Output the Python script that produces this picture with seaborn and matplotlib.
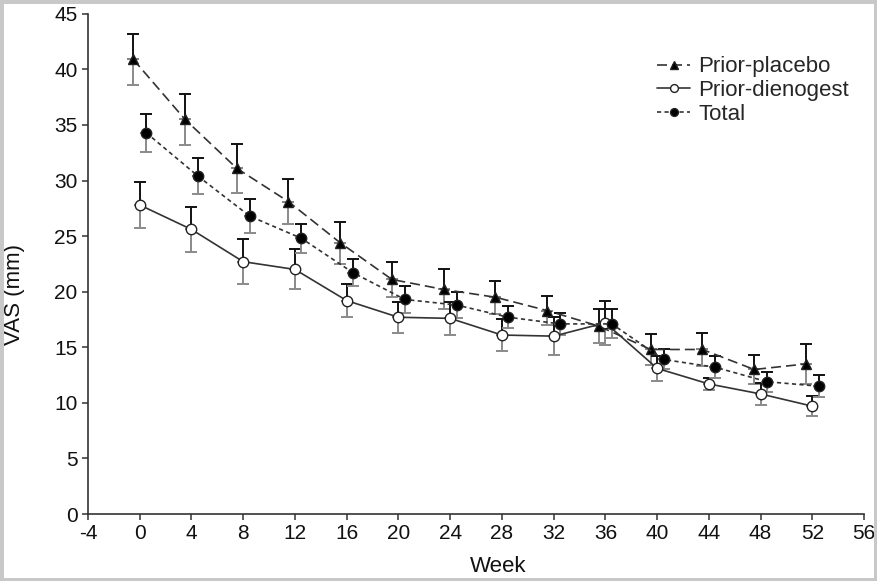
import numpy as np
import pandas as pd
import matplotlib
matplotlib.use("Agg")
import matplotlib.pyplot as plt
import seaborn as sns
from matplotlib.patches import Rectangle

# ─────────────────────────────────────────────
# Data
# ─────────────────────────────────────────────
WEEKS = [0, 4, 8, 12, 16, 20, 24, 28, 32, 36, 40, 44, 48, 52]

placebo_mean = [40.9, 35.5, 31.1, 28.1, 24.4, 21.1, 20.2, 19.5, 18.3, 16.9, 14.8, 14.8, 13.0, 13.5]
placebo_err  = [2.3, 2.3, 2.2, 2.0, 1.9, 1.6, 1.8, 1.5, 1.3, 1.5, 1.4, 1.5, 1.3, 1.8]

dienogest_mean = [27.8, 25.6, 22.7, 22.0, 19.2, 17.7, 17.6, 16.1, 16.0, 17.2, 13.1, 11.7, 10.8, 9.7]
dienogest_err  = [2.1, 2.0, 2.0, 1.8, 1.5, 1.4, 1.5, 1.4, 1.7, 2.0, 1.1, 0.5, 1.0, 0.9]

total_mean = [34.3, 30.4, 26.8, 24.8, 21.7, 19.3, 18.8, 17.7, 17.1, 17.1, 13.9, 13.2, 11.9, 11.5]
total_err  = [1.7, 1.6, 1.5, 1.3, 1.2, 1.2, 1.2, 1.0, 1.0, 1.3, 0.9, 1.0, 0.9, 1.0]

GROUPS = ["Prior-placebo", "Prior-dienogest", "Total"]

df = pd.DataFrame({
    "Week": WEEKS * 3,
    "VAS": placebo_mean + dienogest_mean + total_mean,
    "err": placebo_err + dienogest_err + total_err,
    "Group": np.repeat(GROUPS, len(WEEKS)),
})

# ─────────────────────────────────────────────
# Styling
# ─────────────────────────────────────────────
sns.set_style("ticks")
plt.rcParams["font.family"] = ["Liberation Sans", "DejaVu Sans"]
plt.rcParams["axes.unicode_minus"] = False

LINE = "#333333"
STYLE = {
    "Prior-placebo":   dict(offset=-0.5, dashes=(6, 3),   marker="^", mfc="black", ms=7.5),
    "Prior-dienogest": dict(offset=0.0,  dashes=None,     marker="o", mfc="white", ms=7.5),
    "Total":           dict(offset=0.5,  dashes=(2.5, 2), marker="o", mfc="black", ms=7.5),
}

fig = plt.figure(figsize=(8.77, 5.81), dpi=100)
ax = fig.add_axes([0.1003, 0.1153, 0.885, 0.861])

for g in GROUPS:
    s = STYLE[g]
    sub = df[df["Group"] == g].copy()
    sub["x"] = sub["Week"] + s["offset"]

    # error bars: upper half dark, lower half grey (as in the scan)
    zeros = np.zeros(len(sub))
    ax.errorbar(sub["x"], sub["VAS"], yerr=[zeros, sub["err"]], fmt="none",
                ecolor="#111111", elinewidth=1.4, capsize=4, capthick=1.4, zorder=2)
    ax.errorbar(sub["x"], sub["VAS"], yerr=[sub["err"], zeros], fmt="none",
                ecolor="#8a8a8a", elinewidth=1.4, capsize=4, capthick=1.4, zorder=2)

    kw = dict(dashes=s["dashes"]) if s["dashes"] else dict(linestyle="-")
    sns.lineplot(data=sub, x="x", y="VAS", ax=ax, color=LINE, linewidth=1.2,
                 marker=s["marker"], markersize=s["ms"], markerfacecolor=s["mfc"],
                 markeredgecolor="#222222", markeredgewidth=1.0, label=g,
                 zorder=3, **kw)

ax.set_xlim(-4, 56)
ax.set_ylim(0, 45)
ax.set_xticks(np.arange(-4, 57, 4))
ax.set_yticks(np.arange(0, 46, 5))
ax.tick_params(direction="out", length=4.5, width=1.1, color=LINE,
               labelsize=15, pad=3, labelcolor="#111111")
for side in ["left", "bottom"]:
    ax.spines[side].set_color(LINE)
    ax.spines[side].set_linewidth(1.2)
sns.despine(ax=ax)

ax.set_xlabel("Week", fontsize=16, color="#111111")
ax.set_ylabel("VAS (mm)", fontsize=16, color="#111111")
ax.xaxis.set_label_coords(0.528, -0.083)
ax.yaxis.set_label_coords(-0.081, 0.438)

ax.legend(loc="upper left", bbox_to_anchor=(0.733, 0.915), frameon=False,
          fontsize=16, handlelength=1.5, handletextpad=0.36, labelspacing=0.12,
          markerscale=0.75, borderaxespad=0, borderpad=0)

# light grey frame around the whole picture
fig.patches.append(Rectangle((0, 0), 1, 1, transform=fig.transFigure,
                             fill=False, edgecolor="#c8c8c8", linewidth=5))

fig.savefig("out.png", dpi=100)
